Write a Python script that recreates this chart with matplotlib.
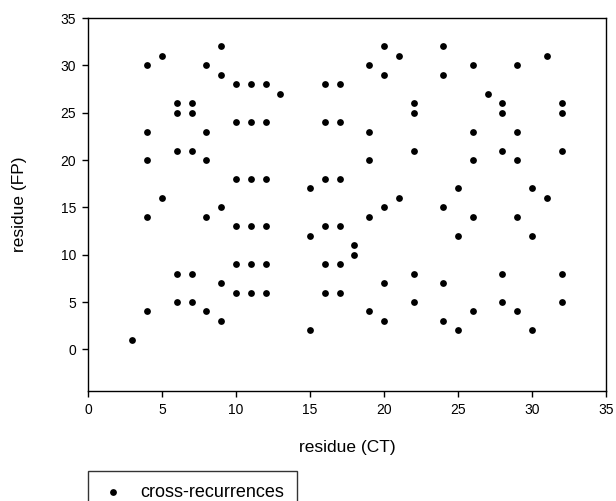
import matplotlib
matplotlib.use('Agg')
import matplotlib.pyplot as plt

plt.rcParams['font.family'] = ['Liberation Sans', 'DejaVu Sans']

# cross-recurrence points (CT residue, FP residue)
ct = [3,
      4, 4, 4, 4, 4,
      5, 5,
      6, 6, 6, 6, 6,
      7, 7, 7, 7, 7,
      8, 8, 8, 8, 8,
      9, 9, 9, 9, 9,
      10, 10, 10, 10, 10, 10,
      11, 11, 11, 11, 11, 11,
      12, 12, 12, 12, 12, 12,
      13,
      15, 15, 15,
      16, 16, 16, 16, 16, 16,
      17, 17, 17, 17, 17, 17,
      18, 18,
      19, 19, 19, 19, 19,
      20, 20, 20, 20, 20,
      21, 21,
      22, 22, 22, 22, 22,
      24, 24, 24, 24, 24,
      25, 25, 25,
      26, 26, 26, 26, 26,
      27,
      28, 28, 28, 28, 28,
      29, 29, 29, 29, 29,
      30, 30, 30,
      31, 31,
      32, 32, 32, 32, 32]
fp = [1,
      4, 14, 20, 23, 30,
      16, 31,
      5, 8, 21, 25, 26,
      5, 8, 21, 25, 26,
      4, 14, 20, 23, 30,
      3, 7, 15, 29, 32,
      6, 9, 13, 18, 24, 28,
      6, 9, 13, 18, 24, 28,
      6, 9, 13, 18, 24, 28,
      27,
      2, 12, 17,
      6, 9, 13, 18, 24, 28,
      6, 9, 13, 18, 24, 28,
      10, 11,
      4, 14, 20, 23, 30,
      3, 7, 15, 29, 32,
      16, 31,
      5, 8, 21, 25, 26,
      3, 7, 15, 29, 32,
      2, 12, 17,
      4, 14, 20, 23, 30,
      27,
      5, 8, 21, 25, 26,
      4, 14, 20, 23, 30,
      2, 12, 17,
      16, 31,
      5, 8, 21, 25, 26]

W, H = 616, 501
fig = plt.figure(figsize=(W / 100, H / 100), dpi=100)
ax = fig.add_axes([88 / W, (H - 391) / H, (606 - 88) / W, (391 - 18) / H])

ax.scatter(ct, fp, s=24, color='black', linewidths=0, label='cross-recurrences')

ax.set_xlim(0, 35)
ax.set_ylim(-4.4, 35)
ax.set_xticks(range(0, 36, 5))
ax.set_yticks(range(0, 36, 5))
ax.tick_params(direction='out', length=4.5, width=1, labelsize=10, pad=4,
               top=False, right=False)
for sp in ax.spines.values():
    sp.set_linewidth(1)

ax.set_xlabel('residue (CT)', fontsize=12.5, labelpad=17)
ax.set_ylabel('residue (FP)', fontsize=12.5, labelpad=24)

leg = fig.legend(loc='upper left', bbox_to_anchor=(88 / W, (H - 471) / H),
                 borderaxespad=0, fancybox=False, frameon=True,
                 fontsize=13, markerscale=1.0, handletextpad=0.8,
                 borderpad=0.7, handlelength=1.4)
leg.get_frame().set_edgecolor('black')
leg.get_frame().set_linewidth(1)

fig.savefig('out.png', dpi=100)
